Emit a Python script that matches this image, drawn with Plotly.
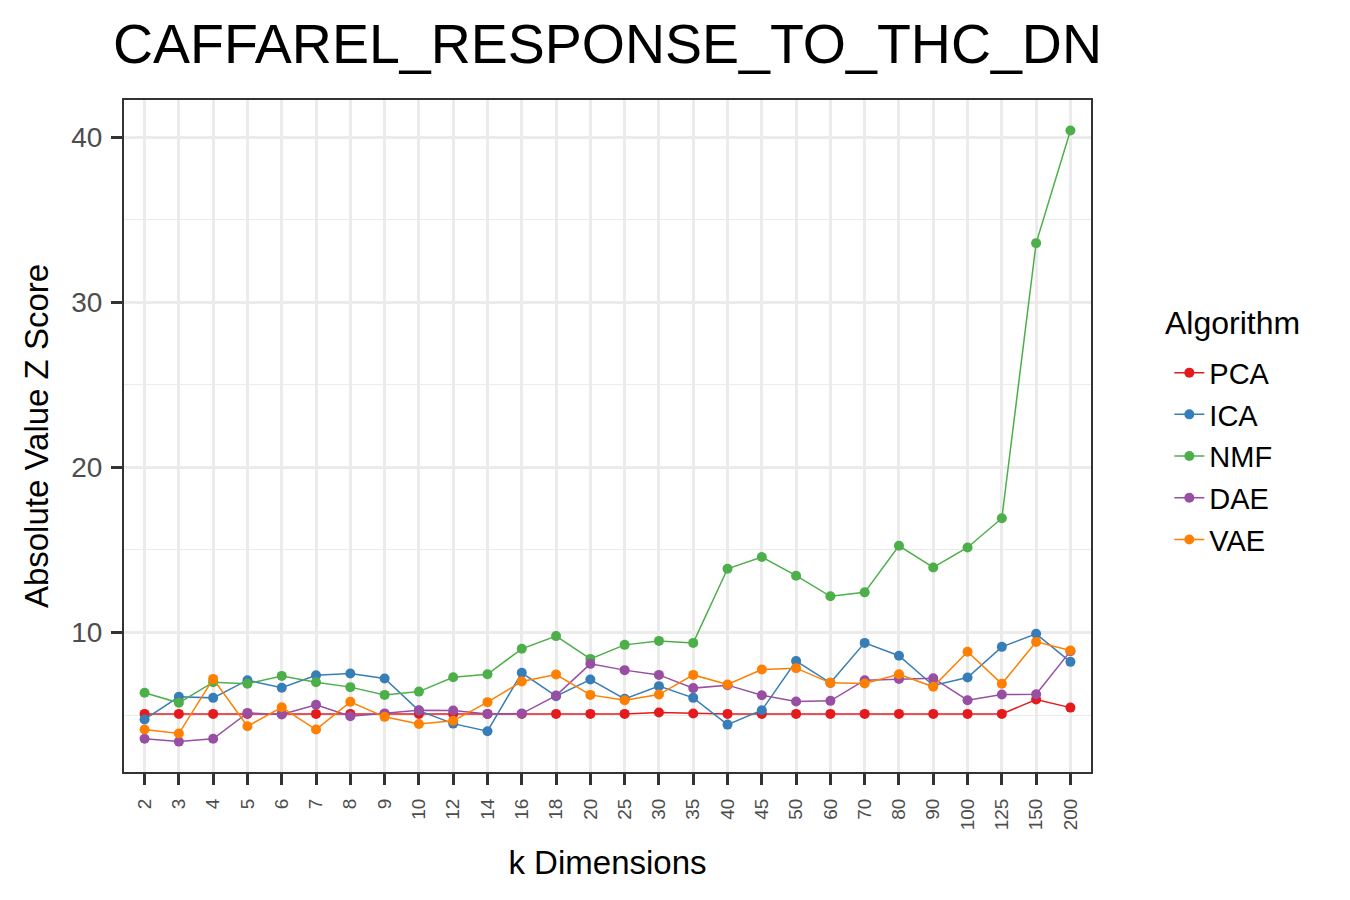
import plotly.graph_objects as go

# k dimensions (categorical x axis)
ks = ["2", "3", "4", "5", "6", "7", "8", "9", "10", "12", "14", "16", "18", "20",
      "25", "30", "35", "40", "45", "50", "60", "70", "80", "90", "100", "125", "150", "200"]

pca = [5.07, 5.07, 5.07, 5.07, 5.07, 5.07, 5.07, 5.07, 5.07, 5.07, 5.07, 5.07, 5.07, 5.07,
       5.07, 5.15, 5.09, 5.07, 5.07, 5.07, 5.07, 5.07, 5.07, 5.07, 5.07, 5.07, 5.94, 5.45]
ica = [4.73, 6.10, 6.04, 7.11, 6.65, 7.41, 7.52, 7.21, 5.27, 4.48, 4.02, 7.56, 6.14, 7.15,
       5.98, 6.75, 6.04, 4.42, 5.29, 8.27, 6.95, 9.37, 8.59, 6.79, 7.27, 9.13, 9.92, 8.22]
nmf = [6.35, 5.74, 6.99, 6.89, 7.37, 6.99, 6.69, 6.22, 6.42, 7.29, 7.47, 9.01, 9.78, 8.40,
       9.25, 9.49, 9.37, 13.86, 14.57, 13.44, 12.19, 12.43, 15.25, 13.94, 15.15, 16.92, 33.58, 40.40]
dae = [3.56, 3.39, 3.56, 5.13, 5.03, 5.62, 4.93, 5.09, 5.29, 5.27, 5.07, 5.09, 6.18, 8.10,
       7.72, 7.43, 6.63, 6.81, 6.20, 5.82, 5.86, 7.11, 7.19, 7.23, 5.90, 6.24, 6.26, 8.87]
vae = [4.12, 3.88, 7.19, 4.32, 5.47, 4.12, 5.80, 4.89, 4.46, 4.65, 5.78, 7.03, 7.45, 6.22,
       5.90, 6.24, 7.43, 6.85, 7.76, 7.84, 6.95, 6.91, 7.47, 6.71, 8.83, 6.89, 9.43, 8.91]

algorithms = ["PCA", "ICA", "NMF", "DAE", "VAE"]
series = [pca, ica, nmf, dae, vae]
colors = ["#E41A1C", "#377EB8", "#4DAF4A", "#984EA3", "#FF7F00"]  # Set1

FONT = "Liberation Sans, Arial, Helvetica, sans-serif"

# page has an 8px body margin, so the figure is drawn a bit smaller
W, H = 1342, 892
L, T, R, B = 116, 92, 259, 128

fig = go.Figure()
for name, vals, col in zip(algorithms, series, colors):
    fig.add_trace(go.Scatter(
        x=ks, y=vals, name=name, mode="lines+markers", legendgroup=name,
        line=dict(color=col, width=1.5),
        marker=dict(color=col, size=10),
    ))

fig.update_layout(
    width=W, height=H,
    margin=dict(l=L, r=R, t=T, b=B, autoexpand=False),
    paper_bgcolor="white", plot_bgcolor="white",
    font=dict(family=FONT, color="black"),
    title=dict(text="CAFFAREL_RESPONSE_TO_THC_DN", x=105 / W, xanchor="left",
               y=1 - 36 / H, yanchor="middle",
               font=dict(size=55.5, color="black")),
    legend=dict(
        font=dict(size=29),
        x=1.081, xanchor="left", y=0.632, yanchor="top",
        tracegroupgap=1,
        bgcolor="rgba(0,0,0,0)",
    ),
    showlegend=True,
    annotations=[dict(
        text="Algorithm", xref="paper", yref="paper",
        x=1.0745, xanchor="left", y=(H - B - 315) / (H - T - B), yanchor="middle",
        showarrow=False, font=dict(size=32, color="black"),
    )],
)

fig.update_xaxes(
    type="category", categoryorder="array", categoryarray=ks,
    range=[-0.6, len(ks) - 0.4],
    tickangle=-90, tickfont=dict(size=19, color="#4D4D4D"),
    ticks="outside", ticklen=11, tickwidth=3, tickcolor="#333333",
    ticklabelstandoff=6,
    showgrid=True, gridcolor="#EBEBEB", gridwidth=2.5,
    showline=True, linecolor="#333333", linewidth=2, mirror=True,
    zeroline=False, automargin=False,
    title=dict(text="k Dimensions", font=dict(size=33, color="black"), standoff=22),
)

fig.update_yaxes(
    range=[1.55, 42.25], tickvals=[10, 20, 30, 40],
    tickfont=dict(size=28, color="#4D4D4D"),
    ticks="outside", ticklen=11, tickwidth=3, tickcolor="#333333",
    ticklabelstandoff=3,
    showgrid=True, gridcolor="#EBEBEB", gridwidth=2.5,
    minor=dict(tickvals=[5, 15, 25, 35], showgrid=True, gridcolor="#EBEBEB", gridwidth=1.2, ticks=""),
    showline=True, linecolor="#333333", linewidth=2, mirror=True,
    zeroline=False, automargin=False,
    title=dict(text="Absolute Value Z Score", font=dict(size=33, color="black"), standoff=13),
)

fig.write_html("out.html")
